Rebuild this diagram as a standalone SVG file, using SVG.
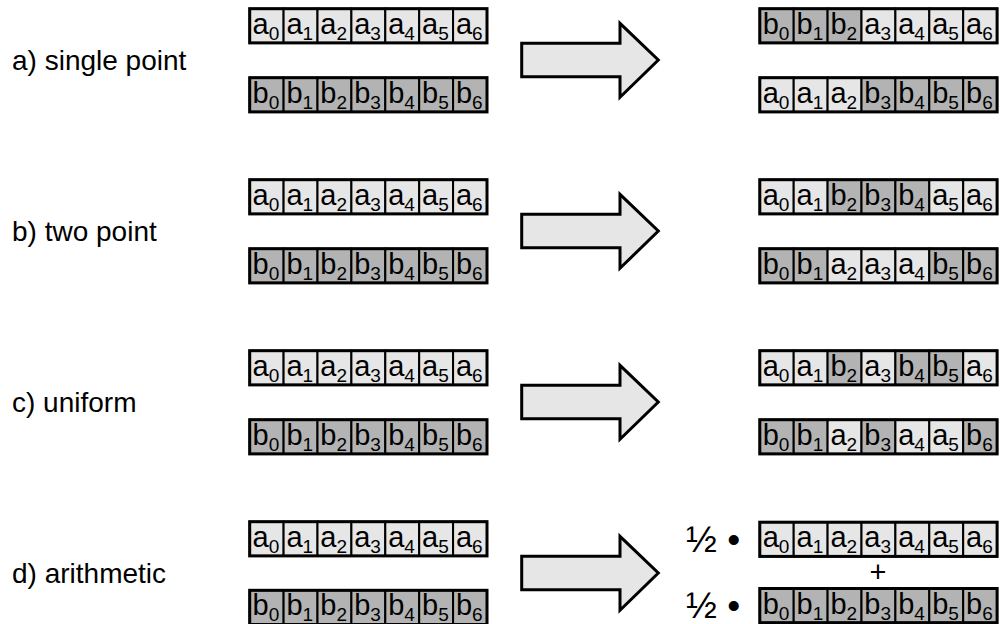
<svg xmlns="http://www.w3.org/2000/svg" xmlns:xlink="http://www.w3.org/1999/xlink" width="1001" height="624" viewBox="0 0 1001 624">
<style>
text{font-family:"Liberation Sans",Arial,sans-serif;fill:#000}
.t{font-size:29px;text-anchor:middle}
.s{font-size:19px}
.ca{fill:#e6e6e6;stroke:#000;stroke-width:2}
.cb{fill:#b3b3b3;stroke:#000;stroke-width:2}
.frame{fill:none;stroke:#000;stroke-width:3}
.lbl{font-size:28px}
.arrow{fill:#e6e6e6;stroke:#000;stroke-width:3;stroke-linejoin:miter}
.half{font-size:37px}
.plus{font-size:29px;text-anchor:middle}
</style>
<defs>
<g id="a0"><rect class="ca" width="33.9" height="34.2"/><text class="t" x="16.2" y="25">a<tspan class="s" dy="6">0</tspan></text></g>
<g id="a1"><rect class="ca" width="33.9" height="34.2"/><text class="t" x="16.2" y="25">a<tspan class="s" dy="6">1</tspan></text></g>
<g id="a2"><rect class="ca" width="33.9" height="34.2"/><text class="t" x="16.2" y="25">a<tspan class="s" dy="6">2</tspan></text></g>
<g id="a3"><rect class="ca" width="33.9" height="34.2"/><text class="t" x="16.2" y="25">a<tspan class="s" dy="6">3</tspan></text></g>
<g id="a4"><rect class="ca" width="33.9" height="34.2"/><text class="t" x="16.2" y="25">a<tspan class="s" dy="6">4</tspan></text></g>
<g id="a5"><rect class="ca" width="33.9" height="34.2"/><text class="t" x="16.2" y="25">a<tspan class="s" dy="6">5</tspan></text></g>
<g id="a6"><rect class="ca" width="33.9" height="34.2"/><text class="t" x="16.2" y="25">a<tspan class="s" dy="6">6</tspan></text></g>
<g id="b0"><rect class="cb" width="33.9" height="34.2"/><text class="t" x="16.2" y="25">b<tspan class="s" dy="6">0</tspan></text></g>
<g id="b1"><rect class="cb" width="33.9" height="34.2"/><text class="t" x="16.2" y="25">b<tspan class="s" dy="6">1</tspan></text></g>
<g id="b2"><rect class="cb" width="33.9" height="34.2"/><text class="t" x="16.2" y="25">b<tspan class="s" dy="6">2</tspan></text></g>
<g id="b3"><rect class="cb" width="33.9" height="34.2"/><text class="t" x="16.2" y="25">b<tspan class="s" dy="6">3</tspan></text></g>
<g id="b4"><rect class="cb" width="33.9" height="34.2"/><text class="t" x="16.2" y="25">b<tspan class="s" dy="6">4</tspan></text></g>
<g id="b5"><rect class="cb" width="33.9" height="34.2"/><text class="t" x="16.2" y="25">b<tspan class="s" dy="6">5</tspan></text></g>
<g id="b6"><rect class="cb" width="33.9" height="34.2"/><text class="t" x="16.2" y="25">b<tspan class="s" dy="6">6</tspan></text></g>
<rect id="frame" class="frame" width="237.3" height="34.2"/>
<g id="rowA"><use href="#a0"/><use href="#a1" x="33.9"/><use href="#a2" x="67.8"/><use href="#a3" x="101.7"/><use href="#a4" x="135.6"/><use href="#a5" x="169.5"/><use href="#a6" x="203.4"/><use href="#frame"/></g>
<g id="rowB"><use href="#b0"/><use href="#b1" x="33.9"/><use href="#b2" x="67.8"/><use href="#b3" x="101.7"/><use href="#b4" x="135.6"/><use href="#b5" x="169.5"/><use href="#b6" x="203.4"/><use href="#frame"/></g>
<polygon id="arrow" class="arrow" points="521.7,43.3 620,43.3 620,23.3 658.3,60 620,97.3 620,76.7 521.7,76.7"/>
</defs>

<g id="label-a"><text class="lbl" x="12" y="70">a) single point</text></g>
<g id="label-b"><text class="lbl" x="12" y="241">b) two point</text></g>
<g id="label-c"><text class="lbl" x="12" y="412">c) uniform</text></g>
<g id="label-d"><text class="lbl" x="12" y="583">d) arithmetic</text></g>

<g id="parents-a"><use href="#rowA" x="249.7" y="8.7"/><use href="#rowB" x="249.7" y="77.7"/></g>
<g id="parents-b"><use href="#rowA" x="249.7" y="179.7"/><use href="#rowB" x="249.7" y="248.7"/></g>
<g id="parents-c"><use href="#rowA" x="249.7" y="350.7"/><use href="#rowB" x="249.7" y="419.7"/></g>
<g id="parents-d"><use href="#rowA" x="249.7" y="521.7"/><use href="#rowB" x="249.7" y="590.3"/></g>

<g id="connectors">
<use href="#arrow"/>
<use href="#arrow" y="171"/>
<use href="#arrow" y="342"/>
<use href="#arrow" y="513"/>
</g>

<g id="children-a">
<g transform="translate(759.8,8.7)"><use href="#b0"/><use href="#b1" x="33.9"/><use href="#b2" x="67.8"/><use href="#a3" x="101.7"/><use href="#a4" x="135.6"/><use href="#a5" x="169.5"/><use href="#a6" x="203.4"/><use href="#frame"/></g>
<g transform="translate(759.8,77.7)"><use href="#a0"/><use href="#a1" x="33.9"/><use href="#a2" x="67.8"/><use href="#b3" x="101.7"/><use href="#b4" x="135.6"/><use href="#b5" x="169.5"/><use href="#b6" x="203.4"/><use href="#frame"/></g>
</g>
<g id="children-b">
<g transform="translate(759.8,179.7)"><use href="#a0"/><use href="#a1" x="33.9"/><use href="#b2" x="67.8"/><use href="#b3" x="101.7"/><use href="#b4" x="135.6"/><use href="#a5" x="169.5"/><use href="#a6" x="203.4"/><use href="#frame"/></g>
<g transform="translate(759.8,248.7)"><use href="#b0"/><use href="#b1" x="33.9"/><use href="#a2" x="67.8"/><use href="#a3" x="101.7"/><use href="#a4" x="135.6"/><use href="#b5" x="169.5"/><use href="#b6" x="203.4"/><use href="#frame"/></g>
</g>
<g id="children-c">
<g transform="translate(759.8,350.7)"><use href="#a0"/><use href="#a1" x="33.9"/><use href="#b2" x="67.8"/><use href="#a3" x="101.7"/><use href="#b4" x="135.6"/><use href="#b5" x="169.5"/><use href="#a6" x="203.4"/><use href="#frame"/></g>
<g transform="translate(759.8,419.7)"><use href="#b0"/><use href="#b1" x="33.9"/><use href="#a2" x="67.8"/><use href="#b3" x="101.7"/><use href="#a4" x="135.6"/><use href="#a5" x="169.5"/><use href="#b6" x="203.4"/><use href="#frame"/></g>
</g>
<g id="children-d">
<use href="#rowA" x="759.8" y="522.2"/>
<use href="#rowB" x="759.8" y="588.5"/>
<text class="half" x="686" y="552">½ •</text>
<text class="plus" x="878" y="582">+</text>
<text class="half" x="686" y="618">½ •</text>
</g>
</svg>
